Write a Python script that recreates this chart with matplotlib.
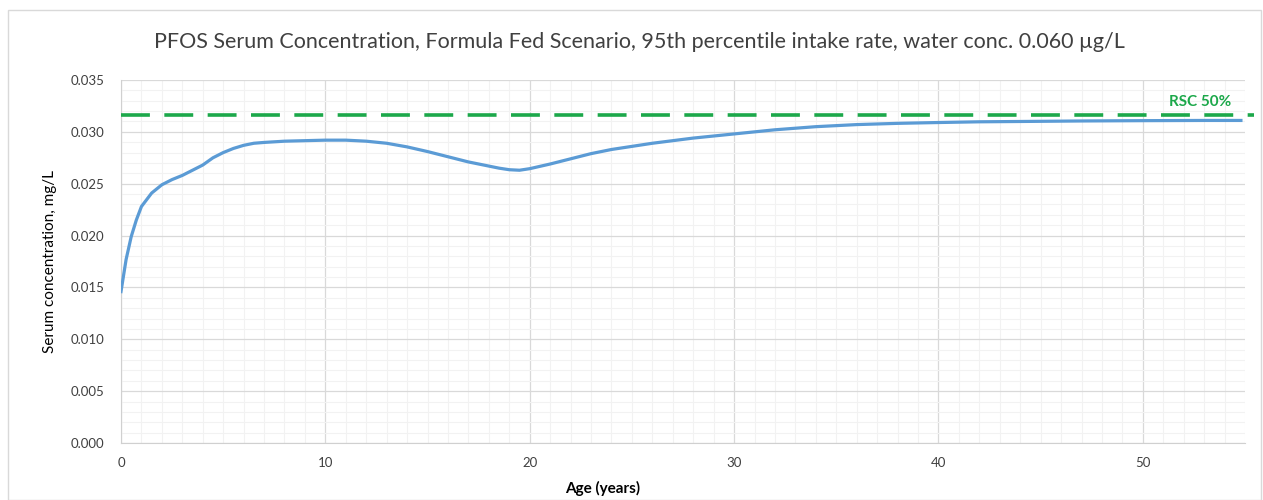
import matplotlib
matplotlib.use("Agg")
import matplotlib.pyplot as plt
from matplotlib.patches import Rectangle
from matplotlib.ticker import MultipleLocator, FormatStrFormatter

age = [0, 0.25, 0.5, 0.75, 1.0, 1.5, 2, 2.5, 3, 3.5, 4, 4.5, 5, 5.5, 6, 6.5, 7, 8, 9, 10, 11, 12, 13, 14, 15, 16, 17, 18, 18.5, 19, 19.5, 20, 21, 22, 23, 24, 25, 26, 27, 28, 29, 30, 32, 34, 36, 38, 40, 42, 44, 47, 50, 53, 54.8]
serum = [0.0146, 0.0177, 0.0199, 0.0215, 0.0228, 0.0241, 0.0249, 0.0254, 0.0258, 0.0263, 0.0268, 0.0275, 0.0280, 0.0284, 0.0287, 0.0289, 0.02898, 0.0291, 0.02915, 0.0292, 0.0292, 0.0291, 0.0289, 0.02855, 0.0281, 0.0276, 0.0271, 0.0267, 0.0265, 0.02635, 0.0263, 0.02645, 0.0269, 0.0274, 0.0279, 0.0283, 0.0286, 0.0289, 0.02915, 0.0294, 0.0296, 0.0298, 0.0302, 0.0305, 0.0307, 0.03082, 0.0309, 0.03097, 0.0310, 0.03105, 0.03108, 0.0311, 0.0311]
rsc_value = 0.0316
rsc_label = "RSC 50%"
title = "PFOS Serum Concentration, Formula Fed Scenario, 95th percentile intake rate, water conc. 0.060 \u00b5g/L"

plt.rcParams['font.family'] = ['Lato', 'DejaVu Sans']

fig = plt.figure(figsize=(12.63, 5.0), dpi=100)
fig.patches.append(Rectangle((8/1263, 0), 1 - 8/1263 - 2/1263, 1 - 10/500, transform=fig.transFigure,
                             fill=False, edgecolor='#d9d9d9', linewidth=1))
ax = fig.add_axes([121/1263, 57/500, 1124/1263, 363/500])

ax.plot(age, serum, color='#5b9bd5', linewidth=2.3, zorder=3)
ax.axhline(rsc_value, xmin=0, xmax=1.008, color='#1ca84a', linewidth=2.6,
           dashes=(8, 4), clip_on=False, zorder=4)
ax.text(54.35, rsc_value + 0.0006, rsc_label, color='#1ca84a', fontsize=11, fontweight='bold',
        ha='right', va='bottom')

ax.set_xlim(0, 55)
ax.set_ylim(0, 0.035)
ax.xaxis.set_major_locator(MultipleLocator(10))
ax.xaxis.set_minor_locator(MultipleLocator(1))
ax.yaxis.set_major_locator(MultipleLocator(0.005))
ax.yaxis.set_minor_locator(MultipleLocator(0.001))
ax.yaxis.set_major_formatter(FormatStrFormatter('%.3f'))
ax.grid(which='major', color='#d9d9d9', linewidth=0.9)
ax.grid(which='minor', color='#f2f2f2', linewidth=0.8)
ax.set_axisbelow(True)
for s in ['top', 'right']:
    ax.spines[s].set_visible(False)
for s in ['left', 'bottom']:
    ax.spines[s].set_color('#d0d0d0')
ax.tick_params(which='both', length=0, colors='#404040', labelsize=9.5, pad=10)
ax.tick_params(axis='y', pad=12)

fig.text(603/1263, 12/500, "Age (years)", ha='center', va='center', fontsize=11,
         fontweight='bold', color='#000000')
ax.set_ylabel("Serum concentration, mg/L", fontsize=11, color='#000000', labelpad=10)
fig.text(639/1263, 1 - 42/500, title, ha='center', va='center', fontsize=15.5, color='#404040')

fig.savefig("out.png", dpi=100)
